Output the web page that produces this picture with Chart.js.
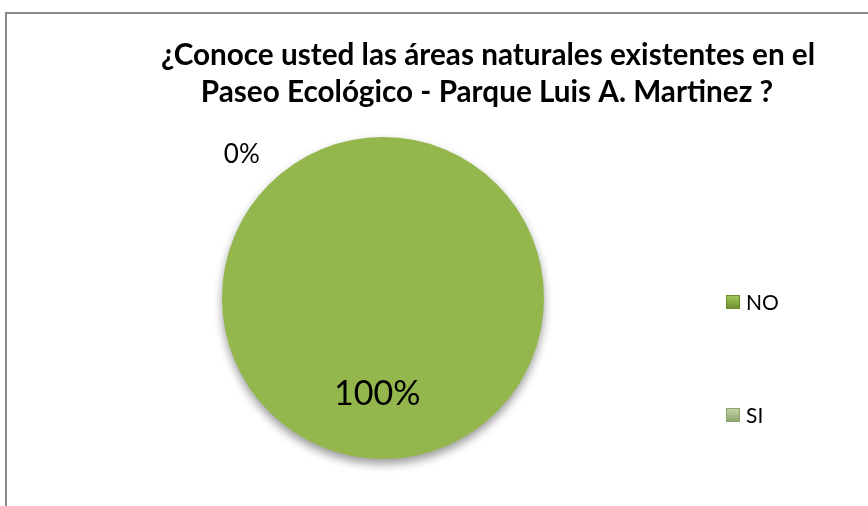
<!DOCTYPE html>
<html>
<head>
<meta charset="utf-8">
<script src="https://cdn.jsdelivr.net/npm/chart.js@4/dist/chart.umd.min.js"></script>
<style>
    html, body { margin: 0; padding: 0; background: #fff; overflow: hidden; }
    #frame { position: absolute; left: 5px; top: 12px; width: 1000px; height: 600px; border: 2px solid #8a8a8a; }
    #wrap { position: absolute; left: 0; top: 0; width: 868px; height: 506px; }
</style>
</head>
<body>
<div id="frame"></div>
<div id="wrap"><canvas id="pieChart"></canvas></div>
<script>
var titleLines = ["¿Conoce usted las áreas naturales existentes en el", "Paseo Ecológico - Parque Luis A. Martinez ?"];
var categories = ["NO", "SI"];
var percents = [100, 0];
var sliceColors = ["#93b74c", "#b7cb98"];
var markerTop = ["#a6c95c", "#c6d6ab"];
var markerBottom = ["#6c8c2c", "#8ca46b"];

var fontFamily = "Lato, 'Open Sans', sans-serif";

function pieFill(context) {
    var chart = context.chart;
    var arc = chart.getDatasetMeta(0).data[context.dataIndex];
    if (!arc || !arc.outerRadius) return sliceColors[context.dataIndex];
    var g = chart.ctx.createLinearGradient(0, arc.y - arc.outerRadius, 0, arc.y + arc.outerRadius);
    g.addColorStop(0, "#c2e184");
    g.addColorStop(0.025, "#a9cc66");
    g.addColorStop(0.06, "#95bb4f");
    g.addColorStop(0.5, "#91b64b");
    g.addColorStop(0.93, "#87ab43");
    g.addColorStop(0.98, "#6e8f32");
    g.addColorStop(1, "#587624");
    return g;
}

var extrasPlugin = {
    id: "extras",
    beforeDatasetsDraw: function (chart) {
        var ctx = chart.ctx;
        ctx.save();
        ctx.shadowColor = "rgba(0,0,0,0.4)";
        ctx.shadowBlur = 10;
        ctx.shadowOffsetY = 5;
    },
    afterDatasetsDraw: function (chart) {
        var ctx = chart.ctx;
        ctx.restore();

        // title
        ctx.save();
        ctx.fillStyle = "#000";
        ctx.textAlign = "center";
        ctx.textBaseline = "middle";
        ctx.font = "bold 29.7px " + fontFamily;
        ctx.fillText(titleLines[0], 488, 55);
        ctx.fillText(titleLines[1], 487, 92);

        // percentage labels
        var arcs = chart.getDatasetMeta(0).data;
        arcs.forEach(function (arc, i) {
            var val = percents[i];
            var mid = (arc.startAngle + arc.endAngle) / 2;
            var r = arc.outerRadius;
            var x, y;
            if (val === 0) {
                ctx.font = "26px " + fontFamily;
                x = arc.x + Math.cos(-Math.PI * 0.75) * r * 1.24;
                y = arc.y + Math.sin(-Math.PI * 0.75) * r * 1.26;
            } else {
                ctx.font = "34px " + fontFamily;
                x = arc.x + Math.cos(mid + 0.06) * r * 0.6;
                y = arc.y + Math.sin(mid + 0.06) * r * 0.6;
            }
            ctx.fillText(val + "%", x, y);
        });

        // legend
        var legendY = [302, 415];
        ctx.textAlign = "left";
        ctx.font = "21px " + fontFamily;
        categories.forEach(function (name, i) {
            var y = legendY[i];
            var g = ctx.createLinearGradient(0, y - 7, 0, y + 7);
            g.addColorStop(0, markerTop[i]);
            g.addColorStop(1, markerBottom[i]);
            ctx.fillStyle = g;
            ctx.fillRect(726, y - 7, 14, 14);
            ctx.strokeStyle = markerBottom[i];
            ctx.lineWidth = 1;
            ctx.strokeRect(726.5, y - 6.5, 13, 13);
            ctx.fillStyle = "#000";
            ctx.fillText(name, 746, y + 1);
        });
        ctx.restore();
    }
};

new Chart(document.getElementById("pieChart"), {
    type: "pie",
    data: {
        labels: categories,
        datasets: [{
            data: percents,
            backgroundColor: pieFill,
            borderWidth: 0
        }]
    },
    options: {
        responsive: true,
        maintainAspectRatio: false,
        animation: false,
        radius: 161,
        layout: { padding: { left: 213, right: 315, top: 128, bottom: 38 } },
        plugins: {
            legend: { display: false },
            title: { display: false },
            tooltip: { enabled: false }
        }
    },
    plugins: [extrasPlugin]
});
</script>
</body>
</html>
